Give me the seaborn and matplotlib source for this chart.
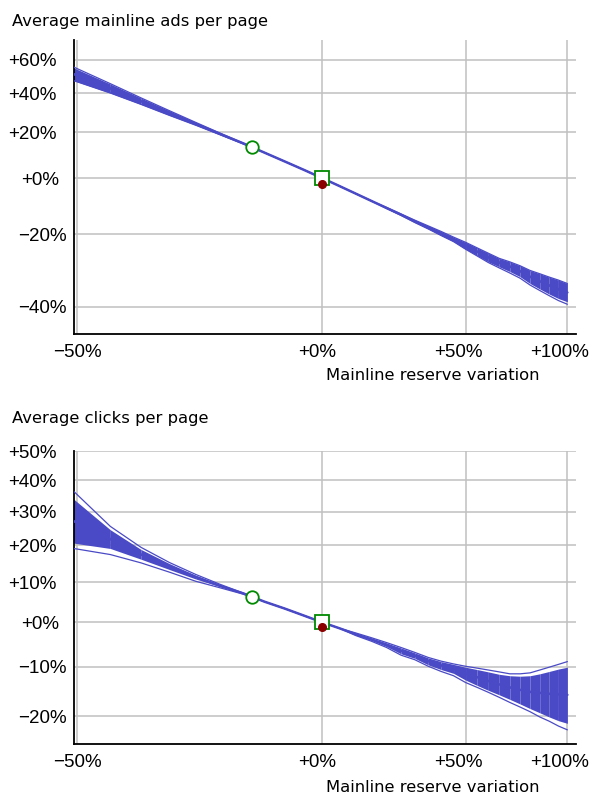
import numpy as np
import pandas as pd
import seaborn as sns
import matplotlib.pyplot as plt
from matplotlib.ticker import FixedLocator, NullFormatter
from matplotlib.transforms import ScaledTranslation

# --- data (percent variations) ---
reserve_pct = [-51, -45, -40, -35, -30, -25, -20, -15, -10, -5, 0,
               5, 10, 15, 20, 25, 30, 35, 40, 45, 50,
               55, 60, 65, 70, 75, 80, 85, 90, 95, 100]

# Average mainline ads per page
ads_mid = [52.0, 42.7, 35.6, 29.4, 24.0, 19.1, 14.8, 10.6, 6.8, 3.3, 0.0,
           -3.1, -6.0, -8.7, -11.2, -13.5, -15.8, -17.8, -19.7, -21.6, -23.5,
           -25.3, -27.0, -28.5, -29.6, -30.9, -32.4, -33.6, -34.7, -35.7, -36.5]
ads_hi = [56.0, 45.2, 37.3, 30.6, 24.7, 19.5, 14.9, 10.6, 6.8, 3.3, 0.0,
          -3.1, -6.0, -8.7, -11.0, -13.3, -15.4, -17.3, -19.1, -20.9, -22.5,
          -24.2, -25.8, -27.3, -28.3, -29.4, -30.7, -31.6, -32.5, -33.3, -34.2]
ads_lo = [48.0, 40.1, 33.9, 28.2, 23.3, 18.7, 14.5, 10.6, 6.8, 3.3, 0.0,
          -3.1, -6.0, -8.7, -11.4, -13.8, -16.2, -18.3, -20.4, -22.3, -24.6,
          -26.5, -28.3, -29.7, -31.0, -32.4, -34.2, -35.6, -36.9, -38.0, -38.8]
ads_outer_hi = [56.5, 45.4, 37.4, 30.6, 24.7, 19.5, 14.9, 10.6, 6.8, 3.3, 0.0,
                -3.1, -6.0, -8.7, -11.0, -13.3, -15.4, -17.3, -19.1, -20.9, -22.5,
                -24.2, -25.8, -27.3, -28.3, -29.4, -30.7, -31.6, -32.5, -33.3, -34.2]
ads_outer_lo = [48.0, 40.1, 33.9, 28.2, 23.3, 18.7, 14.5, 10.6, 6.8, 3.3, 0.0,
                -3.1, -6.0, -8.7, -11.4, -13.8, -16.2, -18.3, -20.4, -22.3, -24.6,
                -26.6, -28.5, -30.0, -31.4, -32.8, -34.6, -36.0, -37.3, -38.5, -39.4]

# Average clicks per page
clicks_mid = [27.7, 21.8, 17.4, 14.1, 11.3, 9.0, 7.1, 5.0, 3.3, 1.6, 0.0,
              -1.4, -2.8, -4.0, -5.2, -6.5, -7.6, -8.8, -9.7, -10.4, -11.4,
              -12.2, -13.0, -13.7, -14.3, -14.8, -15.2, -15.4, -15.6, -15.7, -15.8]
clicks_hi = [35.0, 24.5, 18.8, 14.9, 11.8, 9.3, 7.2, 5.0, 3.3, 1.6, 0.0,
             -1.4, -2.6, -3.7, -4.8, -5.9, -7.0, -8.1, -8.9, -9.5, -10.1,
             -10.6, -11.1, -11.6, -11.9, -12.0, -11.9, -11.5, -11.0, -10.5, -10.1]
clicks_lo = [20.8, 19.1, 16.1, 13.3, 10.8, 8.8, 7.0, 5.0, 3.3, 1.6, 0.0,
             -1.4, -3.0, -4.2, -5.6, -7.2, -8.2, -9.6, -10.6, -11.4, -12.8,
             -13.9, -14.9, -15.8, -16.7, -17.6, -18.5, -19.3, -20.1, -20.8, -21.3]
clicks_outer_hi = [37.7, 25.5, 19.4, 15.2, 12.0, 9.4, 7.2, 5.0, 3.3, 1.6, 0.0,
                   -1.4, -2.5, -3.6, -4.7, -5.8, -6.9, -8.0, -8.8, -9.4, -9.9,
                   -10.3, -10.7, -11.1, -11.5, -11.5, -11.3, -10.7, -10.1, -9.5, -8.9]
clicks_outer_lo = [19.3, 17.4, 15.1, 12.6, 10.2, 8.5, 6.9, 5.0, 3.3, 1.6, 0.0,
                   -1.4, -3.1, -4.4, -5.8, -7.5, -8.5, -9.9, -11.0, -11.9, -13.3,
                   -14.3, -15.3, -16.3, -17.3, -18.2, -19.1, -20.1, -20.9, -21.8, -22.5]

# reference markers
circle_reserve = -18
ads_circle, clicks_circle = 13.1, 6.1
ads_dot, clicks_dot = -2.5, -1.0

x_ticks = [-50, 0, 50, 100]
x_labels = ['\u221250%', '+0%', '+50%', '+100%']
ads_ticks = [60, 40, 20, 0, -20, -40]
ads_labels = ['+60%', '+40%', '+20%', '+0%', '\u221220%', '\u221240%']
clicks_ticks = [50, 40, 30, 20, 10, 0, -10, -20]
clicks_labels = ['+50%', '+40%', '+30%', '+20%', '+10%', '+0%', '\u221210%', '\u221220%']

BLUE = '#4a4ac6'
GREEN = '#008a00'
DARKRED = '#8b0000'


def mult(pct):
    return 1 + np.asarray(pct, dtype=float) / 100


sns.set_theme(style='white')
plt.rcParams['font.family'] = ['Liberation Sans', 'DejaVu Sans']
plt.rcParams['text.color'] = 'black'
plt.rcParams['axes.labelcolor'] = 'black'

fig = plt.figure(figsize=(5.9, 7.94), dpi=100)
ax_top = fig.add_axes([0.1249, 0.5793, 0.8514, 0.3703])
ax_bot = fig.add_axes([0.1249, 0.0626, 0.8514, 0.3694])


def draw_panel(ax, mid, lo, hi, outer_lo, outer_hi, circ, dot, ylim, yticks, ylabels):
    x = mult(reserve_pct)
    ax.set_xscale('log')
    ax.set_yscale('log')

    # band drawn as separate segments (gives the faint seams)
    ylo, yhi = mult(lo), mult(hi)
    for i in range(len(x) - 1):
        ax.fill_between(x[i:i + 2], ylo[i:i + 2], yhi[i:i + 2],
                        color=BLUE, linewidth=0, antialiased=True, zorder=2)

    df = pd.DataFrame({'x': x, 'mid': mult(mid),
                       'olo': mult(outer_lo), 'ohi': mult(outer_hi)})
    sns.lineplot(data=df, x='x', y='mid', ax=ax, color=BLUE, linewidth=1.8,
                 estimator=None, sort=False, zorder=3)
    sns.lineplot(data=df, x='x', y='olo', ax=ax, color=BLUE, linewidth=0.9,
                 estimator=None, sort=False, zorder=3)
    sns.lineplot(data=df, x='x', y='ohi', ax=ax, color=BLUE, linewidth=0.9,
                 estimator=None, sort=False, zorder=3)

    ax.plot(mult(circle_reserve), mult(circ), 'o', ms=9, mfc='white',
            mec=GREEN, mew=1.3, zorder=5)
    ax.plot(1.0, 1.0, 's', ms=9.5, mfc='white', mec=GREEN, mew=1.3, zorder=5)
    ax.plot(1.0, mult(dot), 'o', ms=5.5, color=DARKRED, zorder=6)

    ax.set_xlim(0.4959, 2.0494)
    ax.set_ylim(*ylim)

    ax.xaxis.set_major_locator(FixedLocator(mult(x_ticks)))
    ax.xaxis.set_minor_locator(FixedLocator(np.arange(0.5, 2.051, 0.05)))
    ax.set_xticklabels(x_labels)
    ax.xaxis.set_minor_formatter(NullFormatter())
    ax.yaxis.set_major_locator(FixedLocator(mult(yticks)))
    ax.yaxis.set_minor_locator(FixedLocator(np.arange(0.5, 1.76, 0.05)))
    ax.set_yticklabels(ylabels)
    ax.yaxis.set_minor_formatter(NullFormatter())

    ax.grid(True, which='major', color='#c0c0c0', linewidth=1.1)
    ax.set_axisbelow(True)
    for side in ['top', 'right']:
        ax.spines[side].set_visible(False)
    for side in ['left', 'bottom']:
        ax.spines[side].set_color('black')
        ax.spines[side].set_linewidth(1.3)

    ax.tick_params(which='major', direction='inout', length=4.5, width=1.1,
                   color='black', labelsize=13.5, labelcolor='black')
    ax.tick_params(which='minor', direction='inout', length=2.2, width=1.1,
                   color='black')
    ax.tick_params(axis='x', which='major', pad=5)
    ax.tick_params(axis='y', which='major', pad=3)
    ax.set_ylabel('')
    ax.set_xlabel('Mainline reserve variation', fontsize=11.8,
                  family='DejaVu Sans', va='baseline', color='black')


draw_panel(ax_top, ads_mid, ads_lo, ads_hi, ads_outer_lo, ads_outer_hi,
           ads_circle, ads_dot, (0.5385, 1.729), ads_ticks, ads_labels)
draw_panel(ax_bot, clicks_mid, clicks_lo, clicks_hi, clicks_outer_lo, clicks_outer_hi,
           clicks_circle, clicks_dot, (0.7489, 1.5005), clicks_ticks, clicks_labels)

ax_top.xaxis.set_label_coords((433 - 73.7) / 502.3, -0.1565)
ax_bot.xaxis.set_label_coords((433 - 73.7) / 502.3, -0.1616)

fig.text(12 / 590, 1 - 26 / 794, 'Average mainline ads per page', color='black',
         fontsize=11.8, family='DejaVu Sans', va='baseline', ha='left')
fig.text(12 / 590, 1 - 423 / 794, 'Average clicks per page', color='black',
         fontsize=11.8, family='DejaVu Sans', va='baseline', ha='left')

# nudge tick labels the way the reference places them
x_shift = [1, -5, -7, -7.5]
for ax in (ax_top, ax_bot):
    for lab, dx in zip(ax.get_xticklabels(), x_shift):
        lab.set_transform(lab.get_transform() + ScaledTranslation(dx / 100, 0, fig.dpi_scale_trans))
    for lab in ax.get_yticklabels():
        txt = lab.get_text()
        dx = 0 if txt.startswith('\u2212') else (-7.5 if txt == '+0%' else -9.5)
        lab.set_transform(lab.get_transform() + ScaledTranslation(dx / 100, 0, fig.dpi_scale_trans))

fig.savefig('out.png', dpi=100)
